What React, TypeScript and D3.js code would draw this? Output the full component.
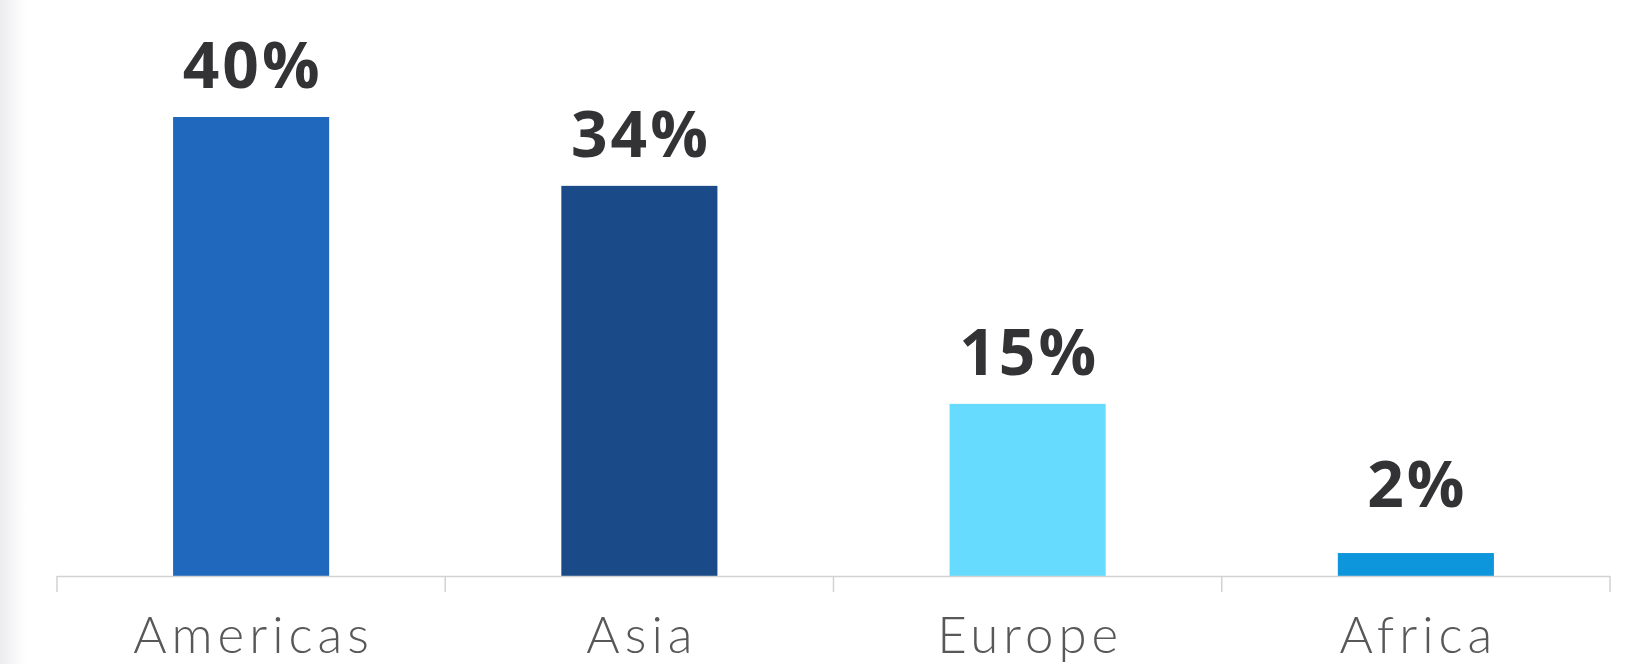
import React, { useEffect } from "react";
import * as d3 from "d3";

const categories = ["Americas", "Asia", "Europe", "Africa"];
const values = [40, 34, 15, 2];
const colors = ["#2067be", "#1b4a88", "#67dbfd", "#0e96dc"];
const valueLabels = ["40%", "34%", "15%", "2%"];

const W = 1637;
const H = 664;

export default function App() {
  useEffect(() => {
    document.body.style.margin = "0";
  }, []);

  const x = d3.scaleBand<string>().domain(categories).range([57, 1610]).padding(0);
  const y = d3.scaleLinear().domain([0, 40]).range([576, 117]);
  const barW = x.bandwidth() * 0.402;
  const tickPositions = [...categories.map((c) => x(c) as number), 1610];
  const catSpacing = 5;
  const valSpacing = 3;

  return (
    <svg width={W} height={H} style={{ position: "absolute", left: 0, top: 0, background: "#fff" }}>
      <defs>
        <linearGradient id="edge" x1="0" x2="1" y1="0" y2="0">
          <stop offset="0" stopColor="#ececef" />
          <stop offset="1" stopColor="#ffffff" />
        </linearGradient>
      </defs>
      <rect x={0} y={0} width={26} height={H} fill="url(#edge)" />
      {categories.map((c, i) => {
        const cx = (x(c) as number) + x.bandwidth() / 2;
        const top = y(values[i]);
        const labelY = y(Math.max(values[i], 3.5)) - 29;
        return (
          <g key={c}>
            <rect x={cx - barW / 2} y={top} width={barW} height={y(0) - top} fill={colors[i]} />
            <text
              x={cx + valSpacing / 2}
              y={labelY}
              textAnchor="middle"
              fontFamily="'Open Sans', sans-serif"
              fontWeight={700}
              fontSize={64}
              letterSpacing={valSpacing}
              fill="#333336"
            >
              {valueLabels[i]}
            </text>
            <text
              x={cx + catSpacing / 2}
              y={653}
              textAnchor="middle"
              fontFamily="Lato, sans-serif"
              fontWeight={300}
              fontSize={51}
              letterSpacing={catSpacing}
              fill="#58585b"
            >
              {c}
            </text>
          </g>
        );
      })}
      <line x1={57} x2={1610} y1={576.5} y2={576.5} stroke="#d2d2d4" strokeWidth={1.5} />
      {tickPositions.map((t, i) => (
        <line key={i} x1={t} x2={t} y1={576} y2={592} stroke="#d2d2d4" strokeWidth={1.5} />
      ))}
    </svg>
  );
}
